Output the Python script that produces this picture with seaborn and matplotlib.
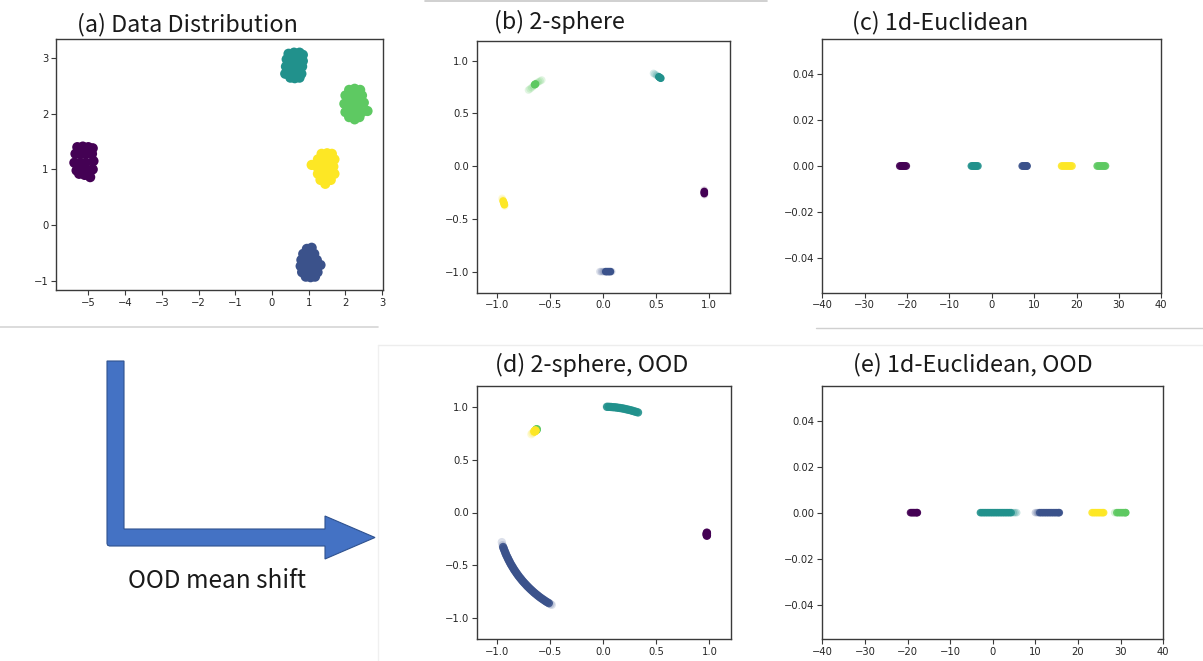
import matplotlib
matplotlib.use("Agg")
import matplotlib.pyplot as plt
import seaborn as sns
from matplotlib.lines import Line2D
from matplotlib.patches import Polygon

# ---------------- data ----------------
CLASSES = ["c0", "c1", "c2", "c3", "c4"]
COLORS = ["#440154", "#3b528b", "#21918c", "#5ec962", "#fde725"]

TITLES = ["(a) Data Distribution", "(b) 2-sphere", "(c) 1d-Euclidean",
          "(d) 2-sphere, OOD", "(e) 1d-Euclidean, OOD"]
ARROW_TEXT = "OOD mean shift"

A_XTICKS = [-5, -4, -3, -2, -1, 0, 1, 2, 3]
A_YTICKS = [-1, 0, 1, 2, 3]
S_TICKS = [-1.0, -0.5, 0.0, 0.5, 1.0]
E_XTICKS = [-40, -30, -20, -10, 0, 10, 20, 30, 40]
E_YTICKS = [-0.04, -0.02, 0.0, 0.02, 0.04]

# (a) data distribution: estimated points of each cluster
a_c0_x = [-5.30, -5.15, -5.00, -4.88, -5.35, -5.20, -5.05, -4.90, -5.38, -5.22,
          -5.07, -4.86, -5.32, -5.18, -5.03, -4.88, -5.25, -5.10, -4.98, -4.95]
a_c0_y = [1.40, 1.41, 1.40, 1.38, 1.28, 1.28, 1.28, 1.28, 1.12, 1.12,
          1.12, 1.15, 0.98, 0.98, 0.98, 1.00, 0.92, 0.90, 0.90, 0.86]
a_c1_x = [0.95, 1.08, 0.85, 1.00, 1.15, 0.80, 0.93, 1.08, 1.22, 0.78, 0.91,
          1.06, 1.20, 1.32, 0.82, 0.95, 1.10, 1.24, 0.92, 1.05, 1.17]
a_c1_y = [-0.43, -0.41, -0.52, -0.52, -0.52, -0.63, -0.63, -0.63, -0.63, -0.74, -0.74,
          -0.74, -0.74, -0.72, -0.85, -0.85, -0.85, -0.85, -0.93, -0.94, -0.93]
a_c2_x = [0.45, 0.60, 0.75, 0.84, 0.40, 0.55, 0.70, 0.84, 0.38, 0.52,
          0.67, 0.82, 0.36, 0.50, 0.65, 0.80, 0.50, 0.62, 0.75]
a_c2_y = [3.08, 3.10, 3.10, 3.06, 2.98, 2.98, 2.98, 2.95, 2.85, 2.85,
          2.85, 2.85, 2.72, 2.72, 2.72, 2.72, 2.65, 2.64, 2.65]
a_c3_x = [2.10, 2.25, 2.40, 2.00, 2.15, 2.30, 2.45, 1.97, 2.10, 2.25,
          2.40, 2.50, 2.00, 2.15, 2.30, 2.45, 2.60, 2.10, 2.25, 2.38]
a_c3_y = [2.43, 2.45, 2.43, 2.33, 2.33, 2.33, 2.33, 2.18, 2.18, 2.18,
          2.18, 2.20, 2.03, 2.03, 2.03, 2.03, 2.05, 1.94, 1.90, 1.94]
a_c4_x = [1.35, 1.50, 1.63, 1.25, 1.40, 1.55, 1.70, 1.08, 1.22, 1.37,
          1.52, 1.67, 1.25, 1.40, 1.55, 1.70, 1.32, 1.47, 1.60, 1.45]
a_c4_y = [1.28, 1.29, 1.28, 1.18, 1.18, 1.18, 1.18, 1.08, 1.05, 1.05,
          1.05, 1.05, 0.92, 0.92, 0.92, 0.92, 0.81, 0.81, 0.81, 0.74]

# (b) 2-sphere embedding: dense cores and faint halos
b_core_c0_x = [0.957, 0.957, 0.957]
b_core_c0_y = [-0.240, -0.250, -0.260]
b_core_c1_x = [0.025, 0.040, 0.055, 0.070]
b_core_c1_y = [-1.0, -1.0, -1.0, -1.0]
b_core_c2_x = [0.527, 0.533, 0.540, 0.546]
b_core_c2_y = [0.848, 0.843, 0.838, 0.834]
b_core_c3_x = [-0.648, -0.643, -0.638]
b_core_c3_y = [0.772, 0.776, 0.780]
b_core_c4_x = [-0.945, -0.940, -0.936, -0.933]
b_core_c4_y = [-0.330, -0.342, -0.355, -0.366]
b_halo_c0_x = [0.956, 0.958]
b_halo_c0_y = [-0.228, -0.270]
b_halo_c1_x = [-0.030, -0.015, 0.000, 0.012, 0.082]
b_halo_c1_y = [-1.0, -1.0, -1.0, -1.0, -1.0]
b_halo_c2_x = [0.477, 0.490, 0.505, 0.515]
b_halo_c2_y = [0.880, 0.872, 0.863, 0.856]
b_halo_c3_x = [-0.705, -0.690, -0.675, -0.660, -0.625, -0.610, -0.595, -0.580]
b_halo_c3_y = [0.722, 0.733, 0.745, 0.758, 0.790, 0.800, 0.808, 0.817]
b_halo_c4_x = [-0.955, -0.950, -0.930]
b_halo_c4_y = [-0.305, -0.318, -0.378]

# (c) 1d-Euclidean embedding (all on y = 0)
c_c0_x = [-21.7, -21.4, -21.1, -20.8, -20.5, -20.2, -21.0]
c_c1_x = [7.2, 7.45, 7.7, 7.95, 8.2, 8.3]
c_c2_x = [-4.8, -4.5, -4.2, -3.9, -3.6, -3.3, -4.0]
c_c3_x = [24.9, 25.3, 25.7, 26.1, 26.5, 26.8]
c_c4_x = [16.5, 16.9, 17.3, 17.7, 18.1, 18.5, 18.9]

# (d) 2-sphere embedding, OOD
d_core_c0_x = [0.975, 0.976, 0.975, 0.974, 0.975, 0.976, 0.975]
d_core_c0_y = [-0.190, -0.195, -0.200, -0.205, -0.210, -0.215, -0.220]
d_core_c1_x = [-0.946, -0.940, -0.934, -0.927, -0.921, -0.914, -0.906, -0.899,
               -0.891, -0.883, -0.875, -0.866, -0.857, -0.848, -0.839, -0.829, -0.819, -0.809,
               -0.799, -0.788, -0.777, -0.766, -0.755, -0.743, -0.731, -0.719, -0.707, -0.695,
               -0.682, -0.669, -0.656, -0.643, -0.629, -0.616, -0.602, -0.588, -0.574, -0.559,
               -0.545, -0.530, -0.515]
d_core_c1_y = [-0.326, -0.342, -0.358, -0.375, -0.391, -0.407, -0.423, -0.438,
               -0.454, -0.469, -0.485, -0.500, -0.515, -0.530, -0.545, -0.559, -0.574, -0.588,
               -0.602, -0.616, -0.629, -0.643, -0.656, -0.669, -0.682, -0.695, -0.707, -0.719,
               -0.731, -0.743, -0.755, -0.766, -0.777, -0.788, -0.799, -0.809, -0.819, -0.829,
               -0.839, -0.848, -0.857]
d_core_c2_x = [0.035, 0.052, 0.070, 0.087, 0.105, 0.122, 0.139, 0.156, 0.174, 0.191,
               0.208, 0.225, 0.242, 0.259, 0.276, 0.292, 0.309, 0.326]
d_core_c2_y = [0.999, 0.999, 0.998, 0.996, 0.995, 0.993, 0.990, 0.988, 0.985, 0.982,
               0.978, 0.974, 0.970, 0.966, 0.961, 0.956, 0.951, 0.946]
d_core_c3_x = [-0.632, -0.628, -0.630]
d_core_c3_y = [0.785, 0.788, 0.782]
d_core_c4_x = [-0.652, -0.646, -0.642, -0.640, -0.645, -0.648]
d_core_c4_y = [0.765, 0.770, 0.774, 0.776, 0.772, 0.768]
d_halo_c0_x = []
d_halo_c0_y = []
d_halo_c1_x = [-0.958, -0.951, -0.500, -0.488]
d_halo_c1_y = [-0.280, -0.309, -0.866, -0.873]
d_halo_c2_x = [0.030]
d_halo_c2_y = [1.000]
d_halo_c3_x = []
d_halo_c3_y = []
d_halo_c4_x = [-0.680, -0.670, -0.660]
d_halo_c4_y = [0.740, 0.750, 0.758]

# (e) 1d-Euclidean embedding, OOD (all on y = 0)
e_core_c0_x = [-19.3, -19.0, -18.7, -18.4, -18.1, -17.8, -17.7]
e_core_c1_x = [11.0, 11.4, 11.8, 12.2, 12.6, 13.0, 13.4, 13.8, 14.2, 14.6, 15.0, 15.4, 15.6]
e_core_c2_x = [-2.9, -2.5, -2.1, -1.7, -1.3, -0.9, -0.5, -0.1, 0.3, 0.7, 1.1, 1.5, 1.9,
               2.3, 2.7, 3.1, 3.5, 3.9, 4.3]
e_core_c3_x = [29.1, 29.5, 29.9, 30.3, 30.7, 31.1, 31.2]
e_core_c4_x = [23.3, 23.7, 24.1, 24.5, 24.9, 25.3, 25.7, 26.0]
e_halo_c0_x = []
e_halo_c1_x = [10.0, 10.4, 10.7]
e_halo_c2_x = [4.8, 5.2, 5.6]
e_halo_c3_x = [28.6]
e_halo_c4_x = []


def assemble(xs, ys=None):
    x, y, lab = [], [], []
    for i, (cls, cx) in enumerate(zip(CLASSES, xs)):
        x += list(cx)
        y += list(ys[i]) if ys is not None else [0.0] * len(cx)
        lab += [cls] * len(cx)
    return x, y, lab


# ---------------- figure ----------------
sns.set_style("ticks")
plt.rcParams["font.family"] = ["DejaVu Sans"]
plt.rcParams["axes.edgecolor"] = "#3a3a3a"
plt.rcParams["axes.linewidth"] = 1.0
plt.rcParams["xtick.color"] = "#3a3a3a"
plt.rcParams["ytick.color"] = "#3a3a3a"
plt.rcParams["xtick.labelcolor"] = "#262626"
plt.rcParams["ytick.labelcolor"] = "#262626"

W, H = 1203, 661
fig = plt.figure(figsize=(W / 100, H / 100), dpi=100)
fig.patch.set_facecolor("white")
palette = dict(zip(CLASSES, COLORS))


def add_ax(left, top, right, bottom):
    return fig.add_axes([left / W, 1 - bottom / H, (right - left) / W, (bottom - top) / H])


def style(ax):
    ax.tick_params(labelsize=7.2, length=3.5, width=0.8, pad=2)
    for sp in ax.spines.values():
        sp.set_visible(True)


def scatter(ax, data, s, alpha):
    x, y, lab = data
    if x:
        sns.scatterplot(x=x, y=y, hue=lab, palette=palette, s=s, linewidth=0,
                        alpha=alpha, legend=False, ax=ax)


TITLE_FONT = ["Noto Sans CJK SC", "DejaVu Sans"]
HALO_ALPHA = 0.18

# (a)
ax = add_ax(56, 39.3, 383.3, 290)
scatter(ax, assemble([a_c0_x, a_c1_x, a_c2_x, a_c3_x, a_c4_x],
                     [a_c0_y, a_c1_y, a_c2_y, a_c3_y, a_c4_y]), 54, 1.0)
ax.set_xlim(-5.88, 3.03)
ax.set_ylim(-1.17, 3.34)
ax.set_xticks(A_XTICKS)
ax.set_yticks(A_YTICKS)
style(ax)

# (b)
ax = add_ax(476.7, 40.7, 730, 292.7)
scatter(ax, assemble([b_halo_c0_x, b_halo_c1_x, b_halo_c2_x, b_halo_c3_x, b_halo_c4_x],
                     [b_halo_c0_y, b_halo_c1_y, b_halo_c2_y, b_halo_c3_y, b_halo_c4_y]),
        30, HALO_ALPHA)
scatter(ax, assemble([b_core_c0_x, b_core_c1_x, b_core_c2_x, b_core_c3_x, b_core_c4_x],
                     [b_core_c0_y, b_core_c1_y, b_core_c2_y, b_core_c3_y, b_core_c4_y]),
        30, 1.0)
ax.set_xlim(-1.195, 1.2)
ax.set_ylim(-1.2, 1.19)
ax.set_xticks(S_TICKS)
ax.set_yticks(S_TICKS)
style(ax)

# (c)
ax = add_ax(822.3, 39.3, 1161.3, 292.7)
scatter(ax, assemble([c_c0_x, c_c1_x, c_c2_x, c_c3_x, c_c4_x]), 32, 0.9)
ax.set_xlim(-40, 40)
ax.set_ylim(-0.055, 0.055)
ax.set_xticks(E_XTICKS)
ax.set_yticks(E_YTICKS)
style(ax)

# (d)
ax = add_ax(476.7, 386, 730.7, 639)
scatter(ax, assemble([d_halo_c0_x, d_halo_c1_x, d_halo_c2_x, d_halo_c3_x, d_halo_c4_x],
                     [d_halo_c0_y, d_halo_c1_y, d_halo_c2_y, d_halo_c3_y, d_halo_c4_y]),
        36, HALO_ALPHA)
scatter(ax, assemble([d_core_c0_x, d_core_c1_x, d_core_c2_x, d_core_c3_x, d_core_c4_x],
                     [d_core_c0_y, d_core_c1_y, d_core_c2_y, d_core_c3_y, d_core_c4_y]),
        36, 0.9)
ax.set_xlim(-1.195, 1.2)
ax.set_ylim(-1.196, 1.196)
ax.set_xticks(S_TICKS)
ax.set_yticks(S_TICKS)
style(ax)

# (e)
ax = add_ax(822.3, 386, 1163.3, 639.3)
scatter(ax, assemble([e_halo_c0_x, e_halo_c1_x, e_halo_c2_x, e_halo_c3_x, e_halo_c4_x]),
        30, 0.25)
scatter(ax, assemble([e_core_c0_x, e_core_c1_x, e_core_c2_x, e_core_c3_x, e_core_c4_x]),
        30, 0.9)
ax.set_xlim(-40, 40)
ax.set_ylim(-0.055, 0.055)
ax.set_xticks(E_XTICKS)
ax.set_yticks(E_YTICKS)
style(ax)

# titles
title_pos = [(76.7, 31.7), (494, 29.3), (851.7, 29.3), (495, 371.7), (852.7, 371.7)]
for t, (px, py) in zip(TITLES, title_pos):
    fig.text(px / W, 1 - py / H, t, ha="left", va="baseline", fontsize=16.8,
             family=TITLE_FONT, color="#1a1a1a")

fig.text(128.3 / W, 1 - 588 / H, ARROW_TEXT, ha="left", va="baseline", fontsize=17.5,
         family=TITLE_FONT, color="#1a1a1a")

# L-shaped arrow
arrow_px = [(107, 361), (124, 361), (124, 529), (325, 529), (325, 516), (375, 537.5),
            (325, 559), (325, 546), (109.5, 546), (107.6, 545.2), (107, 543.5)]
fig.add_artist(Polygon([(px / W, 1 - py / H) for px, py in arrow_px], closed=True,
                       transform=fig.transFigure, facecolor="#4472c4",
                       edgecolor="#2f528f", linewidth=0.8))


# separator lines
def hline(x0, x1, yy, color, lw):
    fig.add_artist(Line2D([x0 / W, x1 / W], [1 - yy / H, 1 - yy / H],
                          transform=fig.transFigure, color=color, linewidth=lw))


def vline(xx, y0, y1, color, lw):
    fig.add_artist(Line2D([xx / W, xx / W], [1 - y0 / H, 1 - y1 / H],
                          transform=fig.transFigure, color=color, linewidth=lw))


hline(425, 767, 0.8, "#c8c8c8", 1.2)
hline(0, 378, 326.7, "#d6d6d6", 1.2)
hline(816, 1203, 328.3, "#d0d0d0", 1.0)
hline(378, 1203, 345, "#ededed", 1.0)
vline(378.3, 345, 661, "#f0f0f0", 1.0)

fig.savefig("out.png", dpi=100, facecolor="white")
